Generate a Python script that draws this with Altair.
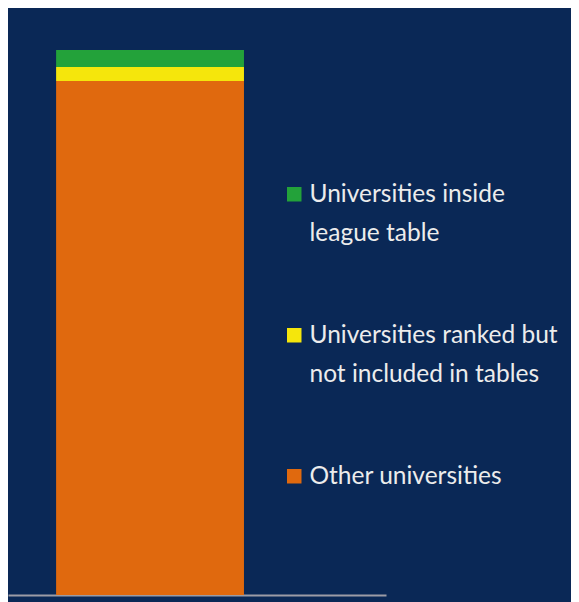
import altair as alt
import pandas as pd

categories = [
    "Universities inside league table",
    "Universities ranked but not included in tables",
    "Other universities",
]
label_lines = [
    ["Universities inside", "league table"],
    ["Universities ranked but", "not included in tables"],
    ["Other universities", ""],
]
shares = [3.1, 2.6, 94.3]
stack_rank = [2, 1, 0]
colors = ["#23a23a", "#f5e60c", "#e0690e"]
bar_group = ["All universities"] * 3

df = pd.DataFrame({"group": bar_group, "category": categories,
                   "share": shares, "rank": stack_rank})

def js_list(lines):
    return "[" + ", ".join("'" + s + "'" for s in lines) + "]"

label_expr = ""
for cat, lines in zip(categories[:-1], label_lines[:-1]):
    label_expr += f"datum.label == '{cat}' ? {js_list(lines)} : "
label_expr += js_list(label_lines[-1])

chart = alt.Chart(df).mark_bar().encode(
    x=alt.X("group:N",
            axis=alt.Axis(labels=False, ticks=False, title=None, grid=False,
                          domainColor="#9c9ca6", domainWidth=2),
            scale=alt.Scale(paddingInner=0, paddingOuter=0.506, align=0.253)),
    y=alt.Y("share:Q", stack="zero", axis=None,
            scale=alt.Scale(domain=[0, 100], nice=False)),
    color=alt.Color("category:N",
                    scale=alt.Scale(domain=categories, range=colors),
                    legend=alt.Legend(
                        orient="none", legendX=274, legendY=132, title=None,
                        symbolType="square", symbolSize=210, symbolStrokeWidth=0,
                        labelFont="Lato", labelFontSize=24.5, labelColor="#ececec",
                        labelLimit=0, labelOffset=3, labelBaseline="top",
                        rowPadding=77, padding=0,
                        labelExpr=label_expr,
                    )),
    order=alt.Order("rank:Q"),
).properties(
    width=378, height=545, background="#0a2856",
    padding={"left": 0, "top": 42, "right": 185, "bottom": 7},
    autosize=alt.AutoSizeParams(type="none"),
)

chart = chart.configure(
    style={"guide-label": {"dy": -11, "lineHeight": 39}}
).configure_view(stroke=None)

chart.save("out.html", embed_options={"renderer": "svg", "actions": False})
